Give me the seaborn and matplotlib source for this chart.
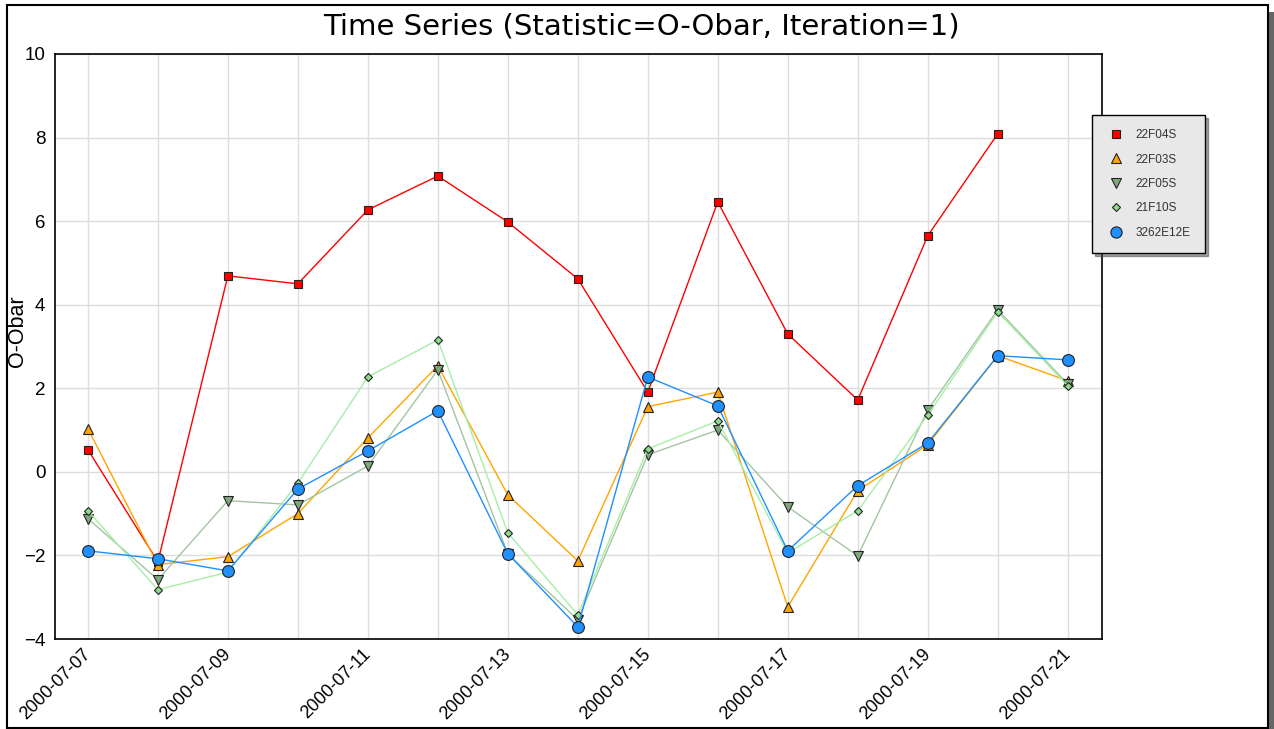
import numpy as np
import pandas as pd
import matplotlib
matplotlib.use("Agg")
import matplotlib.pyplot as plt
from matplotlib.lines import Line2D
from matplotlib.patches import Rectangle
import seaborn as sns

# data
dates = pd.date_range("2000-07-07", "2000-07-21", freq="D")
series_names = ["22F04S", "22F03S", "22F05S", "21F10S", "3262E12E"]
vals_22F04S = [0.53, -2.15, 4.69, 4.50, 6.27, 7.08, 5.98, 4.62, 1.91, 6.46, 3.30, 1.72, 5.65, 8.09, np.nan]
vals_22F03S = [1.03, -2.22, -2.03, -1.00, 0.81, 2.54, -0.55, -2.13, 1.56, 1.91, -3.23, -0.45, 0.65, 2.78, 2.18]
vals_22F05S = [-1.12, -2.58, -0.69, -0.79, 0.14, 2.44, -1.96, -3.54, 0.41, 1.00, -0.84, -2.01, 1.48, 3.88, 2.10]
vals_21F10S = [-0.93, -2.82, -2.40, -0.27, 2.27, 3.16, -1.46, -3.42, 0.55, 1.22, -1.94, -0.93, 1.36, 3.83, 2.06]
vals_3262E12E = [-1.89, -2.08, -2.37, -0.41, 0.50, 1.46, -1.96, -3.71, 2.27, 1.58, -1.89, -0.33, 0.69, 2.78, 2.68]

all_vals = [vals_22F04S, vals_22F03S, vals_22F05S, vals_21F10S, vals_3262E12E]
df = pd.concat(
    [pd.DataFrame({"date": dates, "value": v, "series": n}) for n, v in zip(series_names, all_vals)],
    ignore_index=True,
)

# marker, marker size, line colour, marker face colour
styles = {
    "22F04S": ("s", 6.0, "#ff0000", "#ff0000"),
    "22F03S": ("^", 7.5, "#ffa500", "#ffa500"),
    "22F05S": ("v", 7.5, "#a3c4a3", "#7fa87f"),
    "21F10S": ("D", 4.5, "#a6eea6", "#8fdc8f"),
    "3262E12E": ("o", 8.5, "#1e90ff", "#1e90ff"),
}

sns.set_style("white")
plt.rcParams["font.family"] = ["Liberation Sans", "DejaVu Sans"]
plt.rcParams["text.color"] = "black"
plt.rcParams["xtick.color"] = "black"
plt.rcParams["ytick.color"] = "black"

fig = plt.figure(figsize=(12.74, 7.29), dpi=100)
ax = fig.add_axes([55 / 1274, 1 - 639 / 729, 1047 / 1274, 585 / 729])

handles = []
for name in series_names:
    marker, ms, lc, fc = styles[name]
    sub = df[df["series"] == name].dropna()
    sns.lineplot(data=sub, x="date", y="value", ax=ax, color=lc, linewidth=1.0,
                 marker=marker, markersize=ms, markerfacecolor=fc,
                 markeredgecolor="#222222", markeredgewidth=0.8, legend=False)
    handles.append(Line2D([], [], linestyle="none", marker=marker, markersize=ms * 0.95,
                          markerfacecolor=fc, markeredgecolor="#222222",
                          markeredgewidth=0.8, label=name))

ax.set_xlim(dates[0] - pd.Timedelta(days=0.47), dates[-1] + pd.Timedelta(days=0.49))
ax.set_ylim(-4, 10)
ax.set_xticks(dates)
ax.set_xticklabels([d.strftime("%Y-%m-%d") if i % 2 == 0 else "" for i, d in enumerate(dates)],
                   rotation=45, ha="right", va="center", rotation_mode="anchor", fontsize=13)
ax.set_yticks(range(-4, 11, 2))
ax.set_yticks(range(-3, 10, 2), minor=True)
ax.tick_params(axis="y", labelsize=13.5, pad=7)
ax.tick_params(which="both", direction="in", length=5, width=1, color="black")
ax.tick_params(axis="x", pad=9)
ax.grid(True, which="major", color="#dddddd", linewidth=1)
ax.set_axisbelow(True)
for sp in ax.spines.values():
    sp.set_color("black")
    sp.set_linewidth(1.2)
ax.set_xlabel("")
ax.set_ylabel("")

fig.text(18 / 1274, 1 - 331 / 729, "O-Obar", rotation=90, ha="center", va="center",
         fontsize=15.5)
fig.text(641 / 1274, 1 - 26 / 729, "Time Series (Statistic=O-Obar, Iteration=1)",
         ha="center", va="center", fontsize=21, family="DejaVu Sans")

leg = ax.legend(handles=handles, loc="upper left", bbox_to_anchor=(1092 / 1274, 1 - 115 / 729),
                bbox_transform=fig.transFigure, borderaxespad=0, fontsize=8.5, frameon=True,
                fancybox=False, shadow=True, facecolor="#e8e8e8", edgecolor="black",
                framealpha=1, labelspacing=1.05, borderpad=1.2, handletextpad=0.9,
                handlelength=1.6)
leg.get_frame().set_linewidth(1.0)
for t in leg.get_texts():
    t.set_color("#333333")

# outer frame with drop shadow on the right
fig.add_artist(Rectangle((1269 / 1274, 0), 5 / 1274, 1 - 12 / 729, transform=fig.transFigure,
                         facecolor="#666666", edgecolor="none"))
fig.add_artist(Rectangle((7 / 1274, 1 / 729), 1261 / 1274, 723 / 729, transform=fig.transFigure,
                         fill=False, edgecolor="black", linewidth=1.5))

fig.savefig("out.png", dpi=100, facecolor="white")
